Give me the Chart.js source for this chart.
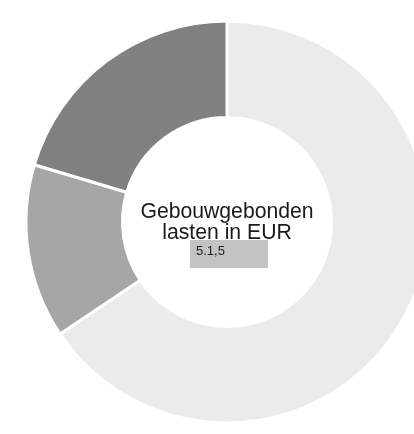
<!DOCTYPE html>
<html>
<head>
<meta charset="utf-8">
<script src="https://cdn.jsdelivr.net/npm/chart.js@4/dist/chart.umd.min.js"></script>
<style>
  html, body { margin: 0; padding: 0; background: #ffffff; overflow: hidden; width: 414px; height: 434px; }
  #wrap { position: absolute; left: 0; top: 0; width: 454px; height: 434px; }
</style>
</head>
<body>
<div id="wrap"><canvas id="c"></canvas></div>
<script>
const categories = ["Deel 1", "Deel 2", "Deel 3"];
const values = [65.6, 14.0, 20.4];
const colors = ["#ebebeb", "#a6a6a6", "#808080"];
const centerTitle = ["Gebouwgebonden", "lasten in EUR"];
const centerValue = "5.1,5";

const centerPlugin = {
  id: "centerText",
  afterDatasetsDraw(chart) {
    const ctx = chart.ctx;
    const meta = chart.getDatasetMeta(0);
    const cx = meta.data[0].x;
    const cy = meta.data[0].y;
    ctx.save();
    ctx.fillStyle = "#1a1a1a";
    ctx.font = "21.2px 'Liberation Sans', Arial, sans-serif";
    ctx.textAlign = "center";
    ctx.textBaseline = "alphabetic";
    ctx.fillText(centerTitle[0], cx, cy - 4);
    ctx.fillText(centerTitle[1], cx, cy + 17);
    ctx.fillStyle = "#c3c3c3";
    ctx.fillRect(cx - 37, cy + 18, 78, 28);
    ctx.fillStyle = "#222222";
    ctx.font = "13px 'Liberation Sans', Arial, sans-serif";
    ctx.textAlign = "left";
    ctx.fillText(centerValue, cx - 31, cy + 33);
    ctx.restore();
  }
};

new Chart(document.getElementById("c"), {
  type: "doughnut",
  data: {
    labels: categories,
    datasets: [{
      data: values,
      backgroundColor: colors,
      borderColor: "#ffffff",
      borderWidth: 3
    }]
  },
  options: {
    responsive: true,
    maintainAspectRatio: false,
    animation: false,
    cutout: "52%",
    layout: { padding: { left: 24.5, right: 24.5, top: 19.5, bottom: 9.5 } },
    plugins: {
      legend: { display: false },
      tooltip: { enabled: false }
    }
  },
  plugins: [centerPlugin]
});
</script>
</body>
</html>
